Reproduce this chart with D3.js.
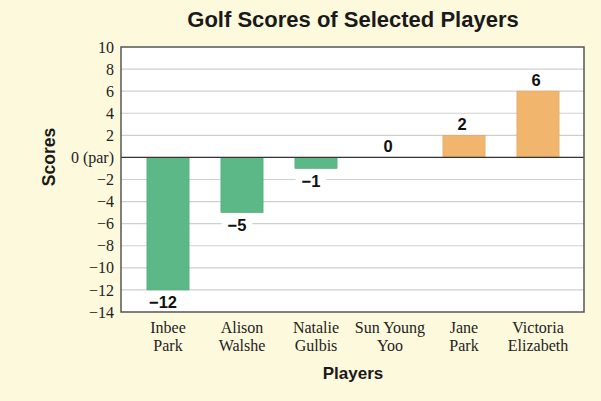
<!DOCTYPE html>
<html><head><meta charset="utf-8">
<script src="https://d3js.org/d3.v7.min.js"></script>
<style>html,body{margin:0;padding:0;background:#fdf9dc;}</style>
</head><body>
<script>
const players = [["Inbee","Park"],["Alison","Walshe"],["Natalie","Gulbis"],["Sun Young","Yoo"],["Jane","Park"],["Victoria","Elizabeth"]];
const scores = [-12,-5,-1,0,2,6];
const yTicks = [10,8,6,4,2,0,-2,-4,-6,-8,-10,-12,-14];
const title = "Golf Scores of Selected Players";
const xTitle = "Players";
const yTitle = "Scores";

const W=601,H=401;
const svg=d3.select("body").append("svg").attr("width",W).attr("height",H);
svg.append("rect").attr("width",W).attr("height",H).attr("fill","#fdf9dc");
const L=121,R=584,T=47,B=312;
const y=d3.scaleLinear().domain([-14,10]).range([B,T]);
const x=d3.scaleBand().domain(d3.range(players.length)).range([131,575]).paddingInner(0.43).paddingOuter(0.215);
const serif="Liberation Serif, Times New Roman, serif";
const sans="Liberation Sans, Arial, sans-serif";

svg.append("rect").attr("x",L).attr("y",T).attr("width",R-L).attr("height",B-T).attr("fill","#fff");
svg.append("g").selectAll("line").data(yTicks.filter(d=>d!==0&&d!==10&&d!==-14)).join("line")
 .attr("x1",L).attr("x2",R).attr("y1",d=>y(d)).attr("y2",d=>y(d)).attr("stroke","#cfcfcf").attr("stroke-width",1.2);

svg.append("g").selectAll("rect").data(scores).join("rect")
 .attr("x",(d,i)=>x(i)).attr("width",x.bandwidth())
 .attr("y",d=>y(Math.max(0,d))).attr("height",d=>Math.abs(y(d)-y(0)))
 .attr("fill",d=>d<0?"#5cb886":"#f2b56e")
 .attr("stroke",d=>d<0?"#4fa676":"#e3a45d").attr("stroke-width",0.6);

svg.append("line").attr("x1",L).attr("x2",R).attr("y1",y(0)).attr("y2",y(0)).attr("stroke","#333").attr("stroke-width",1.3);
svg.append("rect").attr("x",L).attr("y",T).attr("width",R-L).attr("height",B-T).attr("fill","none").attr("stroke","#555").attr("stroke-width",1.5);

const yAxis=d3.axisLeft(y).tickValues(yTicks).tickSize(0).tickPadding(7)
 .tickFormat(d=>d===0?"0 (par)":(d<0?"\u2212"+Math.abs(d):String(d)));
const ga=svg.append("g").attr("transform",`translate(${L},0)`).call(yAxis)
 .attr("font-family",serif).attr("font-size",16);
ga.select(".domain").remove();
ga.selectAll("text").attr("fill","#222");

const xa=svg.append("g");
players.forEach((p,i)=>{
  const cx=x(i)+x.bandwidth()/2;
  const t=xa.append("text").attr("x",cx).attr("y",333).attr("text-anchor","middle")
   .style("font-family",serif).style("font-size","16px").attr("fill","#222");
  t.append("tspan").attr("x",cx).text(p[0]);
  t.append("tspan").attr("x",cx).attr("dy",18).text(p[1]);
});

const vl=svg.append("g");
scores.forEach((d,i)=>{
  const cx=x(i)+x.bandwidth()/2 + (d<0?-5:-2);
  const cy = d<0 ? y(d)+12.5 : y(d)-11;
  const txt=d<0?"\u2212"+Math.abs(d):String(d);
  const g=vl.append("g");
  const t=g.append("text").attr("x",cx).attr("y",cy).attr("dy","0.36em").attr("text-anchor","middle")
   .style("font-family",sans).style("font-weight","bold").style("font-size","16.5px").attr("fill","#111").text(txt);
  const bb=t.node().getBBox();
  g.insert("rect","text").attr("x",bb.x-6).attr("y",bb.y+2).attr("width",bb.width+12).attr("height",bb.height-4).attr("fill","#fff");
});

svg.append("text").attr("x",353).attr("y",27).attr("text-anchor","middle")
 .style("font-family",sans).style("font-weight","bold").style("font-size","22px").attr("fill","#1a1a1a").text(title);
svg.append("text").attr("x",353).attr("y",379).attr("text-anchor","middle")
 .style("font-family",sans).style("font-weight","bold").style("font-size","17px").attr("fill","#1a1a1a").text(xTitle);
svg.append("text").attr("transform","translate(55,157) rotate(-90)").attr("text-anchor","middle")
 .style("font-family",sans).style("font-weight","bold").style("font-size","17.5px").attr("fill","#1a1a1a").text(yTitle);
</script>
</body></html>
